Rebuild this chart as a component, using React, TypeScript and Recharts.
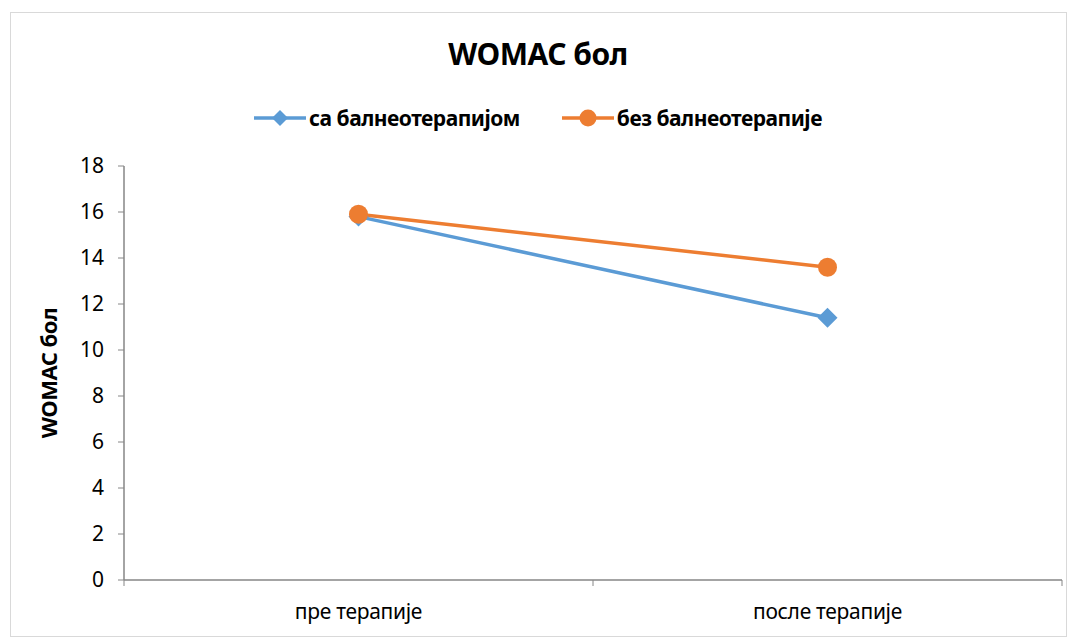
import { LineChart, Line, XAxis, YAxis } from 'recharts'

const categories = ['пре терапије', 'после терапије']
const withBalneo = [15.8, 11.4]
const withoutBalneo = [15.9, 13.6]
const yTicks = [0, 2, 4, 6, 8, 10, 12, 14, 16, 18]

const BLUE = '#5b9bd5'
const ORANGE = '#ed7d31'
const AXIS = '#868686'
const FONT = '"Noto Sans", sans-serif'

const data = categories.map((c, i) => ({
  x: i + 0.5,
  name: c,
  sa: withBalneo[i],
  bez: withoutBalneo[i],
}))

const xTicks = [0, 0.5, 1, 1.5, 2]

const Diamond = (props: any) => {
  const { cx, cy } = props
  if (cx == null || cy == null) return null
  const r = 10
  return (
    <polygon
      points={`${cx},${cy - r} ${cx + r},${cy} ${cx},${cy + r} ${cx - r},${cy}`}
      fill={BLUE}
    />
  )
}

const Circle = (props: any) => {
  const { cx, cy } = props
  if (cx == null || cy == null) return null
  return <circle cx={cx} cy={cy} r={9.5} fill={ORANGE} />
}

const XTick = (props: any) => {
  const { x, y, payload } = props
  const v = payload.value
  if (Number.isInteger(v)) {
    return <line x1={x} y1={y} x2={x} y2={y + 6} stroke={AXIS} strokeWidth={1} />
  }
  return (
    <text x={x} y={y + 39} textAnchor="middle" fontSize={21} fill="#000" fontFamily={FONT} letterSpacing={-0.3}>
      {categories[Math.floor(v)]}
    </text>
  )
}

const LegendBox = () => {
  const items = [
    { label: 'са балнеотерапијом', color: BLUE, shape: 'diamond' },
    { label: 'без балнеотерапије', color: ORANGE, shape: 'circle' },
  ]
  return (
    <div
      style={{
        position: 'absolute',
        left: 0,
        top: 104,
        width: 1076,
        display: 'flex',
        justifyContent: 'center',
        gap: 42,
        fontFamily: FONT,
      }}
    >
      {items.map((it) => (
        <div key={it.label} style={{ display: 'flex', alignItems: 'center' }}>
          <svg width={52} height={24}>
            <line x1={0} y1={12} x2={52} y2={12} stroke={it.color} strokeWidth={3.5} />
            {it.shape === 'diamond' ? (
              <polygon points="26,4 34,12 26,20 18,12" fill={it.color} />
            ) : (
              <circle cx={26} cy={12} r={8.5} fill={it.color} />
            )}
          </svg>
          <span style={{ fontSize: 21, fontWeight: 700, marginLeft: 3, color: '#000', letterSpacing: -0.5 }}>
            {it.label}
          </span>
        </div>
      ))}
    </div>
  )
}

export default function App() {
  return (
    <div style={{ position: 'absolute', left: 0, top: 0, width: 1076, height: 639, background: '#fff' }}>
      <div
        style={{
          position: 'absolute',
          left: 10,
          top: 12,
          width: 1055,
          height: 623,
          border: '1px solid #d9d9d9',
        }}
      />
      <div
        style={{
          position: 'absolute',
          left: 0,
          top: 33,
          width: 1076,
          textAlign: 'center',
          fontFamily: FONT,
          fontWeight: 700,
          fontSize: 30,
          letterSpacing: -0.5,
          color: '#000',
        }}
      >
        WOMAC бол
      </div>
      <LegendBox />
      <div style={{ position: 'absolute', left: 0, top: 0 }}>
        <LineChart
          width={1076}
          height={639}
          data={data}
          margin={{ top: 166, right: 14, bottom: 9, left: 24 }}
        >
          <XAxis
            dataKey="x"
            type="number"
            domain={[0, 2]}
            ticks={xTicks}
            interval={0}
            tick={<XTick />}
            tickLine={false}
            tickSize={0}
            tickMargin={0}
            axisLine={{ stroke: AXIS, strokeWidth: 1.5 }}
            height={50}
          />
          <YAxis
            domain={[0, 18]}
            ticks={yTicks}
            interval={0}
            width={100}
            tickSize={6}
            tickMargin={14}
            tickLine={{ stroke: AXIS }}
            axisLine={{ stroke: AXIS, strokeWidth: 1.5 }}
            tick={{ fontSize: 21, fill: '#000', fontFamily: FONT }}
            label={{
              value: 'WOMAC бол',
              angle: -90,
              position: 'insideLeft',
              offset: 25,
              style: { fontSize: 22, fontWeight: 700, fill: '#000', fontFamily: FONT, textAnchor: 'middle', letterSpacing: -0.5 },
            }}
          />
          <Line
            dataKey="sa"
            name="са балнеотерапијом"
            stroke={BLUE}
            strokeWidth={3.5}
            dot={<Diamond />}
            activeDot={false}
            isAnimationActive={false}
          />
          <Line
            dataKey="bez"
            name="без балнеотерапије"
            stroke={ORANGE}
            strokeWidth={3.5}
            dot={<Circle />}
            activeDot={false}
            isAnimationActive={false}
          />
        </LineChart>
      </div>
    </div>
  )
}
